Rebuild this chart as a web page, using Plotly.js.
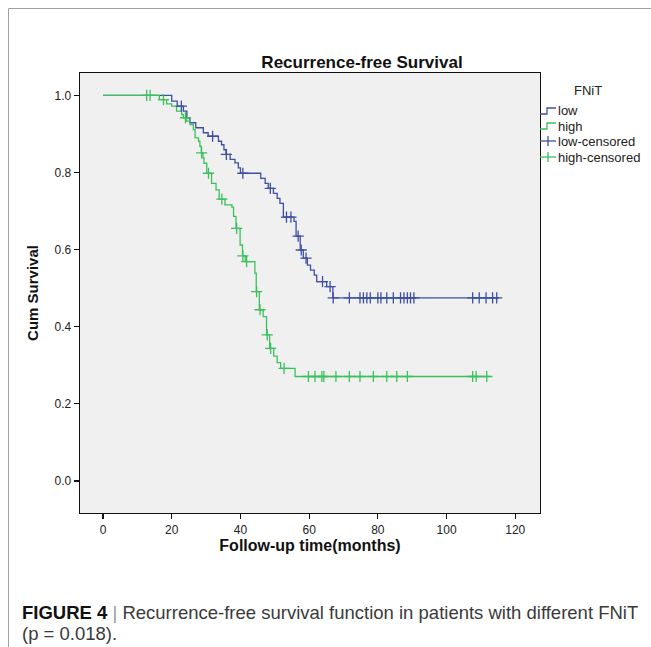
<!DOCTYPE html>
<html><head><meta charset="utf-8">
<script src="https://cdn.plot.ly/plotly-3.0.1.min.js"></script>
<style>html,body{margin:0;padding:0;background:#fff}#chart{width:651px;height:647px}</style>
</head><body><div id="chart"></div>
<script>
const chartTitle = "Recurrence-free Survival";
const xTitle = "Follow-up time(months)";
const yTitle = "Cum Survival";
const legendTitle = "FNiT";
const seriesNames = ["low", "high"];
const censorNames = ["low-censored", "high-censored"];
const captionBold = "FIGURE 4";
const captionLine1 = "Recurrence-free survival function in patients with different FNiT";
const captionLine2 = "(p = 0.018).";
const xTickVals = [0, 20, 40, 60, 80, 100, 120];
const yTickVals = [0, 0.2, 0.4, 0.6, 0.8, 1.0];

// low FNiT: event times and survival after each event
const lowTimes = [0, 20.0, 21.6, 23.4, 24.4, 25.3, 27.0, 29.2, 30.6, 33.6, 34.5, 35.2, 35.8, 37.0, 38.4, 39.4, 40.0, 45.9, 47.2, 48.1, 49.6, 50.7, 51.5, 52.5, 55.6, 56.2, 57.4, 58.3, 59.5, 60.4, 61.5, 62.2, 65.1, 66.9];
const lowSurv  = [1.0, 0.985, 0.972, 0.959, 0.942, 0.929, 0.916, 0.903, 0.894, 0.881, 0.872, 0.859, 0.847, 0.834, 0.825, 0.812, 0.798, 0.785, 0.772, 0.759, 0.746, 0.733, 0.720, 0.684, 0.673, 0.635, 0.599, 0.578, 0.560, 0.547, 0.534, 0.517, 0.504, 0.475];
const lowCensored = [22.8, 31.9, 35.9, 40.7, 48.7, 53.4, 54.7, 56.8, 57.7, 59.1, 63.9, 66.1, 67.0, 71.7, 74.8, 75.8, 76.8, 77.8, 80.0, 80.9, 82.6, 84.5, 86.6, 87.6, 88.6, 89.5, 90.5, 107.6, 109.5, 111.5, 113.4, 114.6];
const lowLastFollowUp = 115.3;

// high FNiT
const highTimes = [0, 16.4, 18.5, 20.0, 21.4, 22.9, 23.4, 24.3, 25.3, 26.3, 26.8, 27.8, 28.2, 28.6, 29.1, 29.4, 30.2, 31.6, 32.9, 33.8, 35.5, 37.5, 38.0, 38.7, 39.9, 40.6, 41.4, 44.2, 44.6, 45.5, 46.6, 47.6, 48.5, 49.7, 50.7, 51.7, 55.9];
const highSurv  = [1.0, 0.989, 0.978, 0.972, 0.959, 0.950, 0.942, 0.933, 0.924, 0.911, 0.890, 0.881, 0.868, 0.851, 0.838, 0.824, 0.798, 0.772, 0.755, 0.731, 0.716, 0.710, 0.686, 0.655, 0.612, 0.584, 0.569, 0.539, 0.491, 0.444, 0.426, 0.379, 0.344, 0.324, 0.307, 0.292, 0.271];
const highCensored = [12.7, 13.7, 17.6, 24.0, 28.7, 30.7, 34.6, 38.9, 40.7, 41.8, 44.7, 45.7, 47.8, 48.8, 52.7, 59.8, 61.7, 63.7, 64.3, 67.8, 71.7, 74.8, 78.7, 82.6, 85.5, 88.6, 107.6, 108.6, 111.7];
const highLastFollowUp = 112.5;

const lowColor = "#3d4fa3";
const highColor = "#3cc05c";

function survAt(times, surv, t) {
  let s = surv[0];
  for (let i = 0; i < times.length; i++) if (times[i] <= t) s = surv[i];
  return s;
}
function stepTrace(times, surv, last, name, color) {
  return {x: times.concat([last]), y: surv.concat([surv[surv.length - 1]]), mode: "lines",
    line: {shape: "hv", color: color, width: 1.3}, name: name, showlegend: false, hoverinfo: "x+y"};
}
function censorTrace(times, surv, cens, name, color) {
  return {x: cens, y: cens.map(t => survAt(times, surv, t)), mode: "markers", name: name, showlegend: false,
    marker: {symbol: "cross-thin", size: 8, color: color, line: {color: color, width: 1.3}}};
}

const data = [
  stepTrace(lowTimes, lowSurv, lowLastFollowUp, seriesNames[0], lowColor),
  stepTrace(highTimes, highSurv, highLastFollowUp, seriesNames[1], highColor),
  censorTrace(lowTimes, lowSurv, lowCensored, censorNames[0], lowColor),
  censorTrace(highTimes, highSurv, highCensored, censorNames[1], highColor)
];

// pixel -> paper helpers (plot area 80..540 x 73..513)
const PL = 80, PR = 540, PT = 73, PB = 513;
const px = p => (p - PL) / (PR - PL);
const py = p => (PB - p) / (PB - PT);

const shapes = [
  {type: "line", xref: "paper", yref: "paper", x0: px(8.5), x1: px(8.5), y0: py(8.5), y1: py(647), line: {color: "#a0a0a0", width: 1}},
  {type: "line", xref: "paper", yref: "paper", x0: px(8.5), x1: px(651), y0: py(8.5), y1: py(8.5), line: {color: "#a0a0a0", width: 1}}
];
const annotations = [];
const legendRows = [111, 126, 141, 157];
const legendColors = [lowColor, highColor, lowColor, highColor];
const legendLabels = seriesNames.concat(censorNames);
annotations.push({xref: "paper", yref: "paper", x: px(588), y: py(90), xanchor: "center", yanchor: "middle",
  text: legendTitle, showarrow: false, font: {size: 13, color: "#222"}});
legendLabels.forEach((lab, i) => {
  const yc = legendRows[i];
  annotations.push({xref: "paper", yref: "paper", x: px(556), y: py(yc), xanchor: "left", yanchor: "middle",
    text: lab, showarrow: false, font: {size: 13, color: "#222"}});
  if (i < 2) {
    shapes.push({type: "path", xref: "paper", yref: "paper",
      path: `M ${px(540)} ${py(yc + 3)} L ${px(547)} ${py(yc + 3)} L ${px(547)} ${py(yc - 3)} L ${px(556)} ${py(yc - 3)}`,
      line: {color: legendColors[i], width: 1.3}});
  } else {
    shapes.push({type: "line", xref: "paper", yref: "paper", x0: px(540), x1: px(556), y0: py(yc), y1: py(yc), line: {color: legendColors[i], width: 1.3}});
    shapes.push({type: "line", xref: "paper", yref: "paper", x0: px(548), x1: px(548), y0: py(yc - 5), y1: py(yc + 5), line: {color: legendColors[i], width: 1.3}});
  }
});
const capFont = {family: "Arial, 'Liberation Sans', sans-serif", size: 18.5, color: "#3a3a3a"};
annotations.push({xref: "paper", yref: "paper", x: px(20), y: py(612), xanchor: "left", yanchor: "middle", showarrow: false,
  text: `<b><span style="color:#111">${captionBold}</span></b> <span style="color:#9a9a9a">|</span> ${captionLine1}`,
  font: capFont});
annotations.push({xref: "paper", yref: "paper", x: px(20), y: py(633), xanchor: "left", yanchor: "middle", showarrow: false,
  text: captionLine2, font: capFont});

const axisCommon = {showgrid: false, zeroline: false, showline: true, linecolor: "#111", linewidth: 1.3, mirror: true,
  ticks: "outside", ticklen: 5, tickcolor: "#111", tickwidth: 1.2, tickfont: {size: 12, color: "#222"}};

const layout = {
  width: 651, height: 647, margin: {l: PL, r: 651 - PR, t: PT, b: 647 - PB},
  paper_bgcolor: "#ffffff", plot_bgcolor: "#f0f0f0",
  font: {family: "Arial, 'Liberation Sans', sans-serif", color: "#222"},
  title: {text: chartTitle, x: 362 / 651, xref: "container", xanchor: "center", y: 1 - 62 / 647, yref: "container", yanchor: "middle",
    font: {size: 17, weight: "bold", color: "#111"}},
  xaxis: Object.assign({}, axisCommon, {range: [-6.7, 127.2], tickvals: xTickVals,
    title: {text: xTitle, font: {size: 16, weight: "bold", color: "#111"}, standoff: 3}}),
  yaxis: Object.assign({}, axisCommon, {range: [-0.083, 1.058], tickvals: yTickVals, tickformat: ".1f",
    title: {text: yTitle, font: {size: 15, weight: "bold", color: "#111"}, standoff: 12}}),
  shapes: shapes, annotations: annotations, showlegend: false
};
Plotly.newPlot("chart", data, layout, {displayModeBar: false, staticPlot: true});
</script></body></html>
